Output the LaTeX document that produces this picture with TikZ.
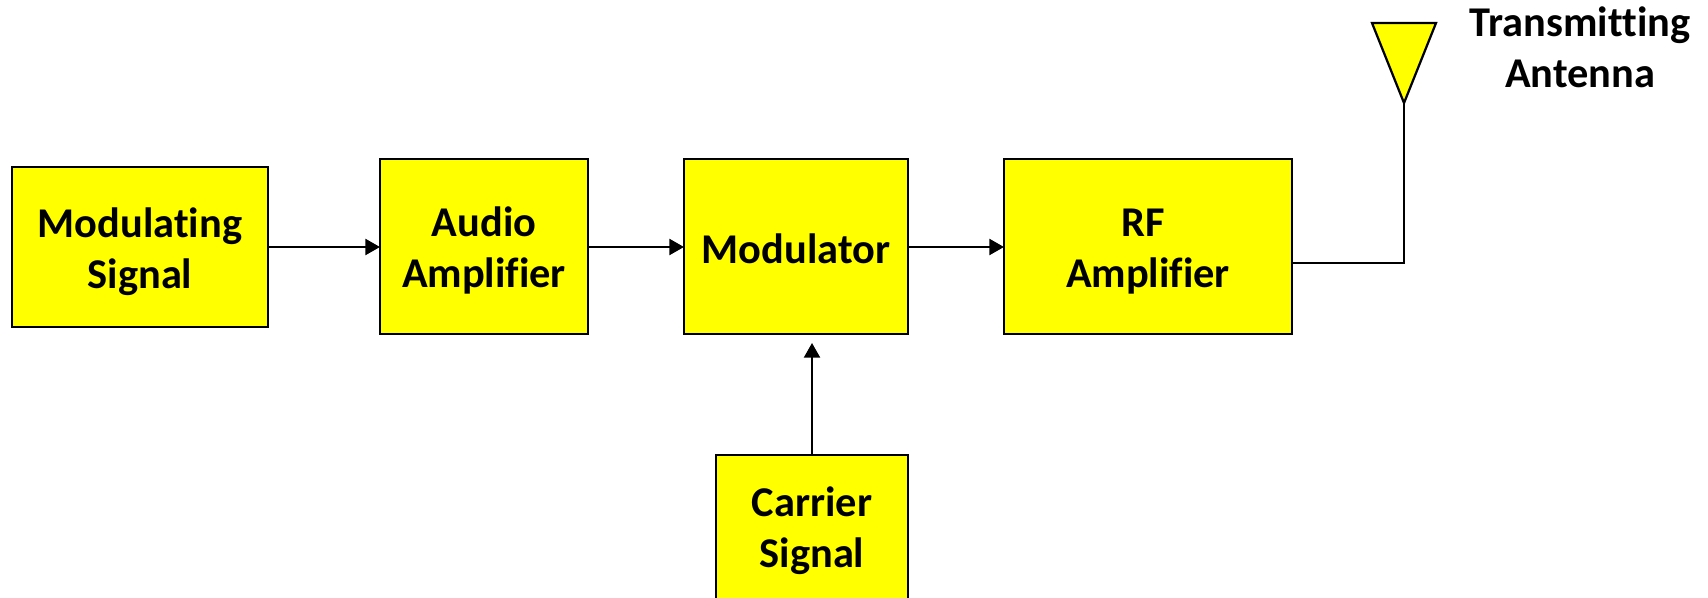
\documentclass[tikz,border=0pt]{standalone}
\usepackage{fontspec}
\setmainfont[Ligatures=NoCommon]{Carlito}
\usetikzlibrary{arrows.meta}
\definecolor{boxyellow}{RGB}{255,255,0}
\newcommand{\twolines}[4]{\rule{0pt}{#3pt}#1\\#2\rule[-#4pt]{0pt}{#4pt}}
\tikzset{
  blockbox/.style={draw=black,fill=boxyellow,line width=1.7pt,inner sep=0pt,outer sep=0pt,
    align=center,font=\fontsize{31.8pt}{38.25pt}\selectfont\bfseries},
  plainlabel/.style={inner sep=0pt,outer sep=0pt,align=center,font=\fontsize{31.8pt}{38.25pt}\selectfont\bfseries},
  wire/.style={draw=black,line width=1.7pt},
  flow/.style={wire,-{Triangle[length=11pt,width=12pt]}}
}
\begin{document}
\begin{tikzpicture}[x=0.75pt,y=-0.75pt]
\useasboundingbox (0,0) rectangle (1708,598);
\node[blockbox,minimum width=192pt,minimum height=120pt] (mod) at (140,247) {\twolines{Modulating}{Signal}{30}{6.65}};
\node[blockbox,minimum width=156pt,minimum height=131.25pt] (audio) at (484,246.5) {\twolines{Audio}{Amplifier}{30}{6.65}};
\node[blockbox,minimum width=168pt,minimum height=131.25pt] (modr) at (796,246.5) {\rule{0pt}{30pt}Modulator\rule[-4.4pt]{0pt}{4.4pt}};
\node[blockbox,minimum width=216pt,minimum height=131.25pt] (rf) at (1148,246.5) {\twolines{RF\hspace*{6.6pt}}{Amplifier}{30}{6.65}};
\node[blockbox,minimum width=144pt,minimum height=109.5pt] (car) at (812,528) {\twolines{Carrier}{Signal}{30}{9.65}};
\node[plainlabel] (tx) at (1580,46.5) {\twolines{Transmitting}{Antenna}{30}{6.65}};
\coordinate (apex) at (1404,103);
\coordinate (tl) at (1372,23);
\coordinate (tr) at (1436,23);
\coordinate (bend) at (1404,263);
\coordinate (in) at (812,343);
\coordinate (level) at (0,247);
\draw[flow] (mod.east) -- (audio.west |- level);
\draw[flow] (audio.east |- level) -- (modr.west |- level);
\draw[flow] (modr.east |- level) -- (rf.west |- level);
\draw[flow] (car.north) -- (in);
\draw[wire,fill=boxyellow,line join=miter] (tl) -- (tr) -- (apex) -- cycle;
\draw[wire] (rf.east |- bend) -- (bend) -- (apex);
\end{tikzpicture}
\end{document}
